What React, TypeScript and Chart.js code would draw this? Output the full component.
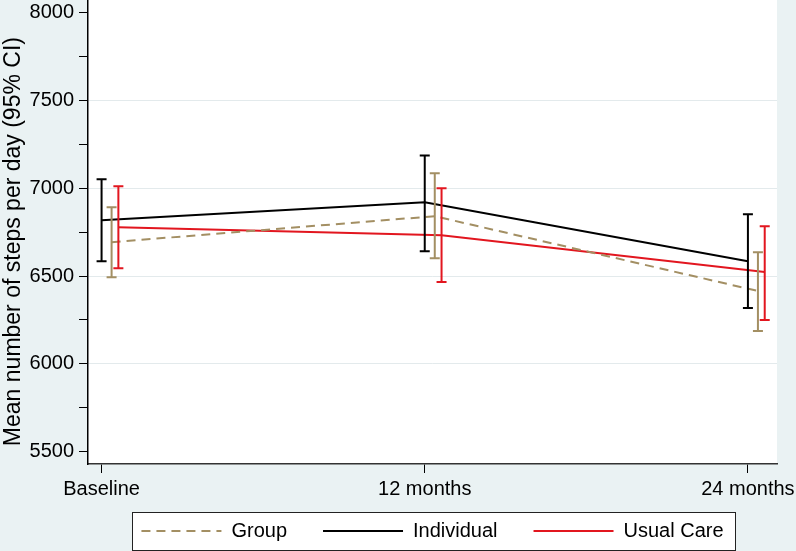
import React, { useEffect, useRef } from 'react';
import Chart from 'chart.js/auto';

// categories on the x axis
const timepoints = ['Baseline', '12 months', '24 months'];

// y axis: tick marks every 250, labels and grid every 500
const yTicks = [5500, 5750, 6000, 6250, 6500, 6750, 7000, 7250, 7500, 7750, 8000];
const yLabelled = [5500, 6000, 6500, 7000, 7500, 8000];
const yGridLines = [6000, 6500, 7000, 7500];

// mean steps per day and 95% CI
const groupMean = [6693, 6841, 6415];
const groupLow = [6494, 6602, 6188];
const groupHigh = [6892, 7085, 6636];

const individualMean = [6818, 6920, 6585];
const individualLow = [6585, 6642, 6318];
const individualHigh = [7051, 7187, 6852];

const usualMean = [6778, 6733, 6523];
const usualLow = [6545, 6466, 6250];
const usualHigh = [7011, 7000, 6784];

// small horizontal dodge so the CIs don't sit on top of each other
const groupDodge = 0.031;
const individualDodge = 0;
const usualDodge = 0.052;

const BG = '#EAF2F3';

const stataPlugin = {
  id: 'stataLook',
  beforeDraw(chart: any) {
    const { ctx, chartArea: a, width, height } = chart;
    ctx.save();
    ctx.fillStyle = BG;
    ctx.fillRect(0, 0, width, height);
    ctx.fillStyle = '#fff';
    ctx.fillRect(a.left, a.top, a.right - a.left, a.bottom - a.top);

    // boxed legend
    const boxes = chart.legend && chart.legend.legendHitBoxes;
    if (boxes && boxes.length) {
      const first = boxes[0];
      const last = boxes[boxes.length - 1];
      const x0 = Math.round(first.left - 9) + 0.5;
      const x1 = Math.round(last.left + last.width + 11) + 0.5;
      const y0 = Math.round(first.top - 9) + 0.5;
      const y1 = Math.round(first.top + first.height + 9) + 0.5;
      ctx.fillStyle = '#fff';
      ctx.fillRect(x0, y0, x1 - x0, y1 - y0);
      ctx.strokeStyle = '#222';
      ctx.lineWidth = 1;
      ctx.strokeRect(x0, y0, x1 - x0, y1 - y0);
    }
    ctx.restore();
  },
  afterDatasetsDraw(chart: any) {
    const { ctx } = chart;
    const xs = chart.scales.x;
    const ys = chart.scales.y;
    chart.data.datasets.forEach((ds: any) => {
      ctx.save();
      ctx.strokeStyle = ds.borderColor;
      ctx.lineWidth = ds.borderWidth;
      ctx.setLineDash([]);
      ds.ciLow.forEach((lo: number, j: number) => {
        const px = xs.getPixelForValue(j + ds.dodge);
        const pLo = ys.getPixelForValue(lo);
        const pHi = ys.getPixelForValue(ds.ciHigh[j]);
        const cap = 5;
        ctx.beginPath();
        ctx.moveTo(px, pLo);
        ctx.lineTo(px, pHi);
        ctx.moveTo(px - cap, pLo);
        ctx.lineTo(px + cap, pLo);
        ctx.moveTo(px - cap, pHi);
        ctx.lineTo(px + cap, pHi);
        ctx.stroke();
      });
      ctx.restore();
    });
  },
};

const toPoints = (vals: number[], dodge: number) => vals.map((v, i) => ({ x: i + dodge, y: v }));

const StepsChart = () => {
  const chartRef = useRef<HTMLCanvasElement | null>(null);

  useEffect(() => {
    const canvas = chartRef.current;
    if (!canvas) return;

    Chart.defaults.font.family = "'Liberation Sans', Arial, sans-serif";
    Chart.defaults.color = '#000';

    const data = {
      datasets: [
        {
          label: 'Group',
          data: toPoints(groupMean, groupDodge),
          ciLow: groupLow,
          ciHigh: groupHigh,
          dodge: groupDodge,
          borderColor: '#A38F63',
          borderWidth: 2,
          borderDash: [9, 6],
          pointRadius: 0,
        },
        {
          label: 'Individual',
          data: toPoints(individualMean, individualDodge),
          ciLow: individualLow,
          ciHigh: individualHigh,
          dodge: individualDodge,
          borderColor: '#000000',
          borderWidth: 2,
          pointRadius: 0,
        },
        {
          label: 'Usual Care',
          data: toPoints(usualMean, usualDodge),
          ciLow: usualLow,
          ciHigh: usualHigh,
          dodge: usualDodge,
          borderColor: '#E2161F',
          borderWidth: 2,
          pointRadius: 0,
        },
      ],
    };

    const options: any = {
      responsive: false,
      animation: false,
      layout: { padding: { top: 0, right: 19, bottom: 0, left: 0 } },
      plugins: {
        tooltip: { enabled: false },
        legend: {
          position: 'bottom',
          fullSize: false,
          // blank title with negative padding pulls the row up so the
          // wide horizontal spacing doesn't push the legend off the canvas
          title: { display: true, text: ' ', font: { size: 10 }, padding: { top: -14, bottom: -14 } },
          labels: {
            usePointStyle: true,
            pointStyleWidth: 80,
            padding: 36,
            font: { size: 20 },
            color: '#000',
            generateLabels: (chart: any) =>
              chart.data.datasets.map((ds: any, i: number) => ({
                text: ds.label,
                fillStyle: 'transparent',
                strokeStyle: ds.borderColor,
                lineWidth: ds.borderWidth,
                lineDash: ds.borderDash || [],
                pointStyle: 'line',
                hidden: false,
                datasetIndex: i,
                fontColor: '#000',
              })),
          },
        },
      },
      scales: {
        x: {
          type: 'linear',
          min: -0.042,
          max: 2.09,
          afterBuildTicks: (scale: any) => {
            scale.ticks = timepoints.map((_, i) => ({ value: i }));
          },
          afterFit: (scale: any) => {
            scale.height = 37;
            scale.paddingLeft = 0;
            scale.paddingRight = 0;
          },
          ticks: {
            autoSkip: false,
            maxRotation: 0,
            padding: 4,
            font: { size: 20 },
            callback: (v: number) => timepoints[v] ?? '',
          },
          grid: {
            drawOnChartArea: false,
            color: 'transparent',
            tickColor: '#000',
            tickLength: 9,
          },
          border: { display: true, color: '#333', width: 1.5 },
        },
        y: {
          type: 'linear',
          min: 5430,
          max: 8072,
          afterBuildTicks: (scale: any) => {
            scale.ticks = yTicks.map((v) => ({ value: v }));
          },
          afterFit: (scale: any) => {
            scale.width = 88;
            scale.paddingTop = 0;
            scale.paddingBottom = 0;
          },
          ticks: {
            autoSkip: false,
            padding: 5,
            font: { size: 20 },
            callback: (v: number) => (yLabelled.includes(v) ? String(v) : ''),
          },
          grid: {
            color: (c: any) => (c.tick && yGridLines.includes(c.tick.value) ? '#E3EAEC' : 'transparent'),
            lineWidth: 1,
            tickColor: '#000',
            tickLength: 9,
          },
          border: { display: true, color: '#000', width: 1.5 },
          title: {
            display: true,
            // trailing spaces nudge the centred title down, as in the original
            text: 'Mean number of steps per day (95% CI)   ',
            font: { size: 23 },
            padding: { top: 0, bottom: 0 },
            color: '#000',
          },
        },
      },
    };

    const stepsChart = new Chart(canvas, {
      type: 'line',
      data: data as any,
      options: options,
      plugins: [stataPlugin],
    });

    return () => {
      stepsChart.destroy();
    };
  }, []);

  return (
    <div style={{ position: 'fixed', left: 0, top: 0, width: 796, height: 551, background: BG }}>
      <canvas ref={chartRef} width={796} height={551}></canvas>
    </div>
  );
};

export default function App() {
  return <StepsChart />;
}
